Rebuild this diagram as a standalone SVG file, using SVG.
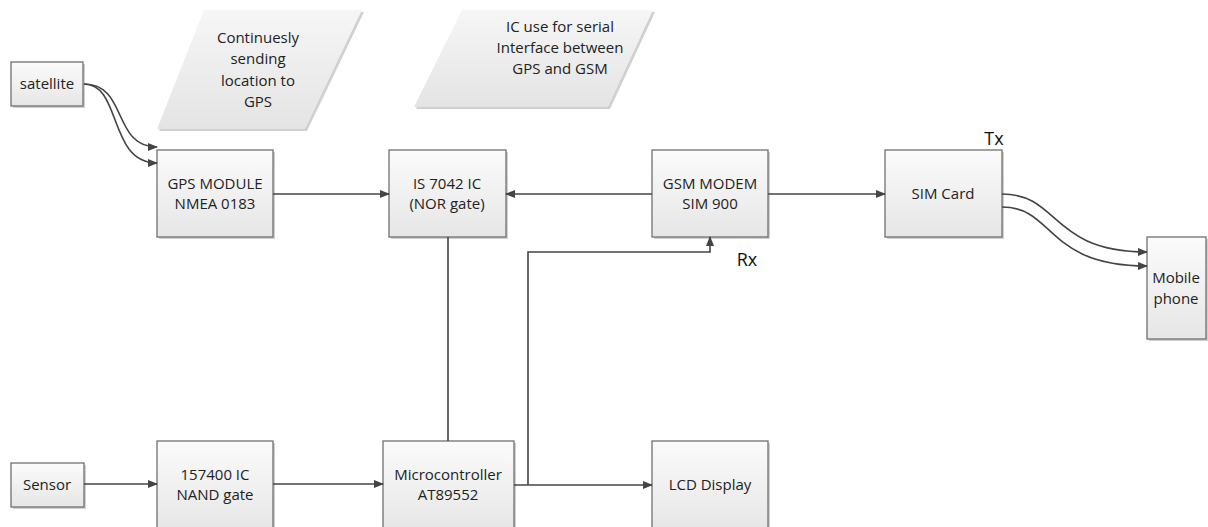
<svg xmlns="http://www.w3.org/2000/svg" width="1208" height="527" viewBox="0 0 1208 527">
<style>
.box{fill:url(#g);stroke:#707070;stroke-width:1.3}
.sh{fill:#d0d0d0}
.para{fill:url(#g2)}
.t{font-family:"Open Sans",Lato,sans-serif;font-size:15px;fill:#222;text-anchor:middle}
.lbl{font-family:"Open Sans",Lato,sans-serif;font-size:18px;fill:#111;text-anchor:middle}
.c{fill:none;stroke:#444;stroke-width:1.6}
</style>
<defs>
<linearGradient id="g" x1="0" y1="0" x2="0" y2="1"><stop offset="0" stop-color="#fbfbfb"/><stop offset="1" stop-color="#e6e6e6"/></linearGradient>
<linearGradient id="g2" x1="0" y1="0" x2="0" y2="1"><stop offset="0" stop-color="#f6f6f6"/><stop offset="1" stop-color="#e4e4e4"/></linearGradient>
<marker id="a" markerWidth="10" markerHeight="10" refX="9" refY="5" orient="auto" markerUnits="userSpaceOnUse"><path d="M0,1 L10,5 L0,9 Z" fill="#444"/></marker>
</defs>
<g id="note1"><polygon points="206,12 364,12 307,131 159,131" class="sh"/><polygon points="204,10 362,10 305,129 157,129" class="para"/>
<text class="t" x="258" y="43">Continuesly</text><text class="t" x="258" y="64">sending</text><text class="t" x="258" y="86">location to</text><text class="t" x="258" y="107">GPS</text></g>
<g id="note2"><polygon points="464,12 655,12 610,109 416,109" class="sh"/><polygon points="462,10 653,10 608,107 414,107" class="para"/>
<text class="t" x="560" y="32">IC use for serial</text><text class="t" x="560" y="53">Interface between</text><text class="t" x="560" y="74">GPS and GSM</text></g>
<g id="satellite"><rect x="13" y="64" width="72" height="44" class="sh"/><rect x="11" y="62" width="72" height="44" class="box"/><text class="t" x="47" y="89">satellite</text></g>
<g id="gps"><rect x="159" y="152" width="116" height="87" class="sh"/><rect x="157" y="150" width="116" height="87" class="box"/><text class="t" x="215" y="189">GPS MODULE</text><text class="t" x="215" y="209">NMEA 0183</text></g>
<g id="is7042"><rect x="391" y="152" width="117" height="87" class="sh"/><rect x="389" y="150" width="117" height="87" class="box"/><text class="t" x="447" y="189">IS 7042 IC</text><text class="t" x="447" y="209">(NOR gate)</text></g>
<g id="gsm"><rect x="654" y="152" width="116" height="87" class="sh"/><rect x="652" y="150" width="116" height="87" class="box"/><text class="t" x="710" y="189">GSM MODEM</text><text class="t" x="710" y="209">SIM 900</text></g>
<g id="sim"><rect x="887" y="152" width="117" height="87" class="sh"/><rect x="885" y="150" width="117" height="87" class="box"/><text class="t" x="943" y="199">SIM Card</text></g>
<g id="mobile"><rect x="1149" y="239" width="59" height="102" class="sh"/><rect x="1147" y="237" width="59" height="102" class="box"/><text class="t" x="1176" y="283">Mobile</text><text class="t" x="1176" y="304">phone</text></g>
<g id="sensor"><rect x="13" y="465" width="73" height="44" class="sh"/><rect x="11" y="463" width="73" height="44" class="box"/><text class="t" x="47" y="490">Sensor</text></g>
<g id="nand"><rect x="159" y="443" width="116" height="90" class="sh"/><rect x="157" y="441" width="116" height="90" class="box"/><text class="t" x="215" y="480">157400 IC</text><text class="t" x="215" y="500">NAND gate</text></g>
<g id="micro"><rect x="385" y="443" width="131" height="90" class="sh"/><rect x="383" y="441" width="131" height="90" class="box"/><text class="t" x="448" y="480">Microcontroller</text><text class="t" x="448" y="500">AT89552</text></g>
<g id="lcd"><rect x="654" y="443" width="116" height="90" class="sh"/><rect x="652" y="441" width="116" height="90" class="box"/><text class="t" x="710" y="490">LCD Display</text></g>
<g id="labels"><text class="lbl" x="994" y="145">Tx</text><text class="lbl" x="747" y="266">Rx</text></g>
<g id="connectors">
<path class="c" d="M84,84 C128,84 112,147 157,147" marker-end="url(#a)"/>
<path class="c" d="M84,84 C122,84 108,163 157,163" marker-end="url(#a)"/>
<path class="c" d="M273,194 L389,194" marker-end="url(#a)"/>
<path class="c" d="M652,194 L506,194" marker-end="url(#a)"/>
<path class="c" d="M768,194 L885,194" marker-end="url(#a)"/>
<path class="c" d="M1002,194 C1060,194 1050,252 1147,252" marker-end="url(#a)"/>
<path class="c" d="M1002,207 C1055,207 1045,266 1147,266" marker-end="url(#a)"/>
<path class="c" d="M448,237 L448,441"/>
<path class="c" d="M84,484 L157,484" marker-end="url(#a)"/>
<path class="c" d="M273,484 L383,484" marker-end="url(#a)"/>
<path class="c" d="M514,485 L652,485" marker-end="url(#a)"/>
<path class="c" d="M528,485 L528,252 L710,252 L710,237" marker-end="url(#a)"/>
</g>
</svg>
